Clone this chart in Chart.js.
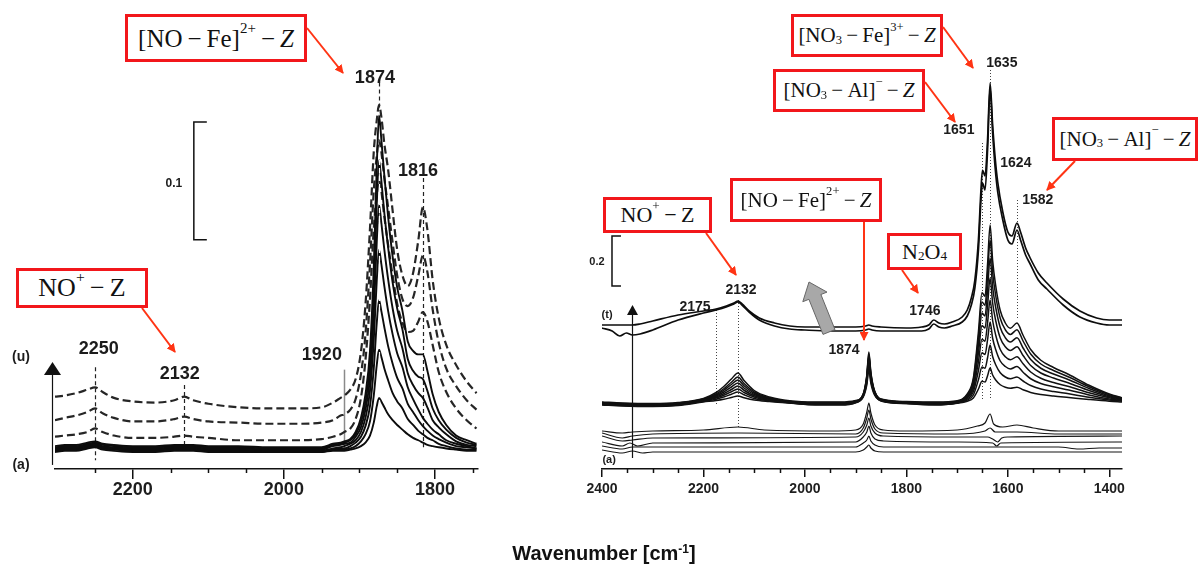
<!DOCTYPE html>
<html>
<head>
<meta charset="utf-8">
<title>IR spectra – NO adsorption</title>
<script src="https://cdn.jsdelivr.net/npm/chart.js@4.4.1/dist/chart.umd.min.js"></script>
<style>
    html, body { margin: 0; padding: 0; background: #fff; }
    #page { position: relative; width: 1200px; height: 564px; overflow: hidden; background: #fff; }
    canvas { position: absolute; top: 0; }
    #leftChart { left: 0; }
    #rightChart { left: 560px; }
    .tag {
        position: absolute; box-sizing: border-box; border: 3px solid #f2171b; background: #fff;
        display: flex; align-items: center; justify-content: center;
        font-family: 'Liberation Serif', 'Times New Roman', serif; color: #111;
        white-space: nowrap; line-height: 1;
    }
    .tag sup, .tag sub { font-size: 0.6em; position: relative; vertical-align: baseline; line-height: 0; }
    .tag sup { top: -0.7em; }
    .tag sub { top: 0.35em; }
    #arrows { position: absolute; left: 0; top: 0; pointer-events: none; }
    #xTitle {
        position: absolute; left: 0; width: 1208px; top: 542px; text-align: center;
        font: bold 20px 'Liberation Sans', Arial, sans-serif; color: #111;
    }
    #xTitle sup { font-size: 0.6em; position: relative; top: -0.6em; vertical-align: baseline; line-height: 0; }
</style>
</head>
<body>
<div id="page">
    <canvas id="leftChart" width="500" height="564"></canvas>
    <canvas id="rightChart" width="640" height="564"></canvas>

    <!-- red annotation boxes -->
    <div class="tag" style="left:125px;top:14px;width:182px;height:48px;font-size:25px;">[NO&#8201;&#8722;&#8201;Fe]<sup>2+</sup>&#8201;&#8722;&#8201;<i>Z</i></div>
    <div class="tag" style="left:16px;top:268px;width:132px;height:40px;font-size:26px;">NO<sup>+</sup>&#8201;&#8722;&#8201;Z</div>
    <div class="tag" style="left:791px;top:14px;width:152px;height:43px;font-size:21px;">[NO<sub>3</sub>&#8201;&#8722;&#8201;Fe]<sup>3+</sup>&#8201;&#8722;&#8201;<i>Z</i></div>
    <div class="tag" style="left:773px;top:69px;width:152px;height:43px;font-size:21px;">[NO<sub>3</sub>&#8201;&#8722;&#8201;Al]<sup>&#8722;</sup>&#8201;&#8722;&#8201;<i>Z</i></div>
    <div class="tag" style="left:1052px;top:117px;width:146px;height:44px;font-size:21px;">[NO<sub>3</sub>&#8201;&#8722;&#8201;Al]<sup>&#8722;</sup>&#8201;&#8722;&#8201;<i>Z</i></div>
    <div class="tag" style="left:603px;top:197px;width:109px;height:36px;font-size:22px;">NO<sup>+</sup>&#8201;&#8722;&#8201;Z</div>
    <div class="tag" style="left:730px;top:178px;width:152px;height:44px;font-size:21px;">[NO&#8201;&#8722;&#8201;Fe]<sup>2+</sup>&#8201;&#8722;&#8201;<i>Z</i></div>
    <div class="tag" style="left:887px;top:233px;width:75px;height:37px;font-size:22px;">N<sub>2</sub>O<sub>4</sub></div>

    <svg id="arrows" width="1200" height="564">
        <defs>
            <marker id="ah" markerWidth="9" markerHeight="9" refX="8" refY="4.5" orient="auto" markerUnits="userSpaceOnUse">
                <path d="M0,0 L9,4.5 L0,9 z" fill="#ff3414"/>
            </marker>
        </defs>
        <g stroke="#ff3414" stroke-width="2" marker-end="url(#ah)">
            <line x1="307" y1="28" x2="343" y2="73"/>
            <line x1="142" y1="308" x2="175" y2="352"/>
            <line x1="943" y1="27" x2="973" y2="68"/>
            <line x1="925" y1="82" x2="955" y2="122"/>
            <line x1="1075" y1="161" x2="1047" y2="190"/>
            <line x1="706" y1="233" x2="736" y2="275"/>
            <line x1="864" y1="222" x2="864" y2="340"/>
            <line x1="902" y1="270" x2="918" y2="293"/>
        </g>
        <!-- grey block arrow -->
        <polygon points="823,334.4 835,329.6 820.9,294.5 827,292.1 809,282 802.8,301.7 808.9,299.3"
                 fill="#a8a8a8" stroke="#666" stroke-width="1"/>
    </svg>

    <div id="xTitle">Wavenumber [cm<sup>-1</sup>]</div>
</div>

<script>
// ---------------- Left panel data (wavenumber, absorbance offset) ----------------
const leftWn = [2303, 2290, 2275, 2260, 2250, 2240, 2225, 2200, 2170, 2145, 2132, 2120, 2100, 2060, 2020,
    1980, 1950, 1935, 1925, 1920, 1912, 1905, 1898, 1892, 1886, 1881, 1877, 1874, 1871, 1867, 1862,
    1856, 1850, 1843, 1836, 1829, 1822, 1816, 1810, 1803, 1795, 1785, 1772, 1758, 1745];

// dashed spectra, series (u)
const leftU1 = [.047, .048, .050, .053, .055, .051, .046, .043, .042, .044, .047, .044, .041, .038, .037,
    .037, .038, .042, .046, .048, .053, .062, .085, .125, .190, .255, .282, .295, .285, .262, .240,
    .205, .172, .150, .141, .152, .180, .208, .189, .146, .114, .091, .074, .060, .050];
const leftU2 = [.027, .029, .031, .034, .037, .033, .029, .026, .026, .028, .030, .028, .026, .025, .024,
    .024, .025, .027, .031, .032, .036, .045, .066, .100, .160, .222, .252, .265, .255, .233, .208,
    .178, .150, .130, .124, .131, .150, .167, .153, .121, .093, .071, .056, .044, .036];
const leftU3 = [.013, .014, .015, .017, .020, .017, .014, .012, .012, .013, .014, .013, .012, .010, .010,
    .010, .011, .013, .015, .017, .020, .028, .046, .078, .130, .190, .219, .231, .222, .200, .176,
    .150, .126, .110, .102, .103, .111, .119, .111, .091, .068, .051, .037, .027, .020];

// solid spectra, series (a)
const leftS1 = [.005, .006, .006, .008, .009, .007, .006, .005, .005, .006, .006, .006, .005, .005, .004,
    .004, .004, .007, .008, .009, .011, .017, .029, .049, .086, .157, .243, .286, .266, .235, .200,
    .166, .140, .120, .094, .086, .083, .083, .069, .049, .034, .023, .014, .010, .007];
const leftS2 = [.004, .005, .005, .007, .008, .006, .005, .004, .004, .005, .005, .005, .004, .004, .003,
    .003, .003, .006, .007, .008, .010, .015, .025, .042, .074, .136, .211, .248, .231, .203, .174,
    .144, .122, .104, .079, .069, .064, .062, .052, .037, .027, .019, .012, .008, .006];
const leftS3 = [.003, .004, .004, .006, .007, .005, .004, .003, .003, .004, .004, .004, .003, .003, .002,
    .002, .002, .005, .006, .007, .008, .013, .021, .036, .063, .116, .179, .210, .195, .172, .147,
    .122, .103, .088, .067, .057, .050, .046, .038, .027, .021, .015, .009, .006, .005];
const leftS4 = [.002, .003, .003, .005, .006, .004, .003, .002, .002, .003, .003, .003, .002, .002, .001,
    .001, .001, .003, .004, .005, .007, .010, .017, .029, .052, .095, .146, .172, .160, .141, .120,
    .100, .084, .072, .055, .045, .036, .029, .024, .019, .015, .010, .007, .005, .003];
const leftS5 = [.001, .002, .002, .004, .005, .003, .002, .001, .001, .002, .002, .002, .001, .001, 0,
    0, 0, .002, .003, .003, .005, .008, .013, .022, .039, .071, .110, .129, .120, .106, .090,
    .075, .063, .054, .041, .034, .027, .022, .018, .014, .011, .008, .005, .004, .003];
const leftS6 = [.002, .003, .003, .004, .005, .004, .003, .002, .002, .002, .003, .002, .002, .001, .001,
    .001, .001, .002, .002, .002, .003, .005, .009, .015, .026, .048, .074, .087, .081, .071, .061,
    .050, .043, .037, .028, .023, .018, .015, .012, .010, .007, .005, .003, .002, .002];
const leftS7 = [0, .001, .001, .003, .004, .002, .001, 0, 0, .001, .001, .001, 0, 0, 0,
    0, 0, .001, .001, .001, .002, .003, .005, .008, .014, .025, .039, .046, .043, .038, .032,
    .027, .023, .019, .015, .012, .010, .008, .006, .005, .004, .003, .002, .001, .001];

// ---------------- Right panel data ----------------
// top spectra (t)
const topWn = [2400, 2380, 2365, 2352, 2340, 2325, 2300, 2250, 2200, 2175, 2155, 2140, 2132, 2124, 2110,
    2090, 2060, 2030, 2000, 1950, 1900, 1880, 1874, 1868, 1850, 1800, 1770, 1756, 1746, 1736,
    1725, 1710, 1690, 1680, 1672, 1665, 1658, 1653, 1650, 1645, 1640, 1635, 1630, 1625, 1620,
    1610, 1600, 1592, 1582, 1575, 1565, 1557, 1540, 1523, 1491, 1458, 1425, 1400, 1375];
const rightT1 = [.576, .576, .576, .576, .576, .580, .592, .616, .632, .640, .652, .664, .672, .660, .632,
    .604, .584, .572, .568, .568, .568, .572, .576, .572, .568, .564, .568, .576, .596, .584,
    .580, .588, .608, .636, .684, .756, .916, 1.116, 1.196, 1.172, 1.316, 1.544, 1.376, 1.244, 1.148,
    1.028, .948, .932, .984, .948, .884, .848, .784, .744, .680, .632, .604, .596, .596];
const rightT2 = [.564, .552, .532, .544, .536, .540, .556, .596, .624, .636, .648, .660, .668, .656, .628,
    .596, .572, .560, .556, .552, .552, .556, .560, .556, .552, .552, .552, .560, .580, .568,
    .564, .572, .588, .612, .656, .724, .876, 1.076, 1.144, 1.116, 1.276, 1.524, 1.344, 1.204, 1.108,
    .996, .916, .900, .956, .916, .856, .824, .756, .720, .656, .608, .584, .576, .576];

// middle spectra
const midWn = [2400, 2360, 2300, 2250, 2200, 2175, 2160, 2145, 2132, 2120, 2100, 2070, 2030, 1980, 1930,
    1900, 1885, 1878, 1874, 1870, 1862, 1845, 1800, 1740, 1700, 1680, 1668, 1658, 1651, 1645,
    1640, 1635, 1630, 1624, 1615, 1605, 1595, 1582, 1570, 1555, 1535, 1510, 1480, 1440, 1400, 1375];
const rightM1 = [.268, .264, .262, .266, .282, .306, .330, .360, .384, .354, .314, .288, .273, .268, .268,
    .274, .301, .376, .468, .386, .309, .278, .270, .268, .273, .300, .364, .549, .705, .691,
    .819, .976, .834, .734, .634, .584, .563, .584, .535, .478, .435, .406, .378, .335, .300, .285];
const rightM2 = [.266, .262, .260, .264, .280, .300, .321, .347, .368, .342, .308, .285, .270, .266, .266,
    .272, .299, .372, .460, .382, .307, .277, .268, .266, .270, .297, .355, .525, .668, .655,
    .773, .916, .786, .694, .603, .557, .538, .557, .512, .460, .420, .394, .368, .329, .297, .284];
const rightM3 = [.264, .260, .258, .262, .278, .296, .315, .338, .356, .333, .303, .282, .270, .264, .264,
    .272, .298, .367, .452, .377, .305, .275, .268, .264, .270, .293, .345, .496, .624, .612,
    .716, .844, .728, .647, .566, .525, .508, .525, .484, .438, .403, .380, .357, .322, .293, .281];
const rightM4 = [.262, .258, .256, .260, .276, .292, .308, .328, .344, .324, .298, .280, .268, .262, .262,
    .270, .296, .363, .444, .372, .304, .274, .266, .262, .268, .289, .334, .464, .574, .564,
    .654, .764, .664, .594, .524, .489, .474, .489, .454, .414, .384, .364, .344, .314, .289, .279];
const rightM5 = [.260, .256, .254, .258, .274, .288, .301, .318, .332, .315, .293, .278, .266, .260, .260,
    .268, .295, .359, .436, .367, .302, .272, .264, .260, .266, .285, .322, .429, .519, .511,
    .585, .676, .594, .536, .478, .449, .437, .449, .421, .388, .363, .346, .330, .305, .285, .276];
const rightM6 = [.259, .255, .253, .257, .272, .284, .295, .309, .320, .306, .288, .275, .265, .259, .259,
    .267, .293, .352, .424, .360, .299, .271, .263, .259, .265, .280, .309, .394, .465, .458,
    .517, .588, .523, .478, .432, .410, .400, .410, .387, .361, .342, .329, .316, .296, .280, .274];
const rightM7 = [.258, .254, .252, .256, .271, .279, .288, .299, .308, .297, .282, .273, .264, .258, .258,
    .266, .291, .345, .412, .353, .297, .270, .262, .258, .264, .276, .296, .357, .408, .403,
    .445, .496, .450, .417, .385, .368, .361, .368, .352, .334, .320, .310, .301, .287, .276, .271];
const rightM8 = [.256, .252, .250, .254, .268, .274, .279, .286, .292, .285, .276, .270, .264, .256, .256,
    .265, .288, .337, .396, .343, .293, .270, .262, .256, .263, .271, .284, .320, .351, .348,
    .373, .404, .376, .356, .337, .327, .323, .327, .317, .306, .298, .292, .286, .278, .271, .268];

// bottom spectra (a), [wavenumber, value] pairs
const rightA1 = [[2400, .152], [2360, .144], [2340, .148], [2300, .152], [2200, .156], [2132, .168], [2080, .156],
    [1950, .152], [1900, .156], [1885, .18], [1878, .228], [1874, .264], [1870, .224], [1862, .176], [1845, .156],
    [1800, .152], [1700, .156], [1660, .172], [1645, .184], [1635, .22], [1628, .18], [1610, .168], [1582, .176],
    [1550, .164], [1500, .152], [1450, .152], [1375, .152]];
const rightA2 = [[2400, .144], [2360, .124], [2340, .132], [2300, .14], [2132, .144], [1900, .14], [1885, .164],
    [1878, .204], [1874, .236], [1870, .2], [1862, .16], [1845, .144], [1700, .14], [1645, .152], [1635, .164],
    [1625, .148], [1582, .148], [1500, .14], [1375, .14]];
const rightA3 = [[2400, .132], [2360, .112], [2340, .116], [2300, .124], [1900, .128], [1885, .148], [1878, .176],
    [1874, .204], [1870, .172], [1862, .144], [1845, .132], [1700, .128], [1640, .128], [1630, .12], [1620, .108],
    [1612, .124], [1600, .128], [1375, .132]];
const rightA4 = [[2400, .108], [2360, .092], [2345, .104], [2330, .092], [2300, .104], [1900, .108], [1885, .128],
    [1878, .148], [1874, .172], [1870, .144], [1862, .12], [1845, .112], [1700, .108], [1630, .104], [1622, .092],
    [1614, .104], [1375, .108]];
const rightA5 = [[2400, .092], [2360, .08], [2340, .088], [2300, .088], [1900, .088], [1885, .104], [1878, .116],
    [1874, .132], [1870, .112], [1862, .096], [1845, .088], [1700, .088], [1500, .088], [1460, .08], [1420, .084],
    [1375, .084]];
const rightA6 = [[2400, .076], [2360, .064], [2340, .072], [2320, .064], [2300, .068], [1900, .068], [1885, .076],
    [1878, .088], [1874, .096], [1870, .084], [1862, .072], [1845, .068], [1375, .068]];

// axis ticks
const leftTicks = [2200, 2000, 1800];
const leftMinor = [2250, 2150, 2100, 2050, 1950, 1900, 1850, 1750];
const rightTicks = [2400, 2200, 2000, 1800, 1600, 1400];
const rightMinor = [2350, 2300, 2250, 2150, 2100, 2050, 1950, 1900, 1850, 1750, 1700, 1650, 1550, 1500, 1450];

Chart.defaults.font.family = "'Liberation Sans', Arial, sans-serif";

// Build a line dataset from a wavenumber list and a value list
function series(wn, vals, style) {
    return Object.assign({
        data: wn.map((w, i) => ({ x: w, y: vals[i] })),
        borderColor: '#111',
        borderWidth: 1.3,
        pointRadius: 0,
        fill: false,
        cubicInterpolationMode: 'monotone'
    }, style);
}

function pairSeries(pairs, style) {
    return series(pairs.map(p => p[0]), pairs.map(p => p[1]), style);
}

// Draws guide lines, peak labels, scale bar, arrow and minor ticks using the chart scales
function overlay(cfg) {
    const drawGuides = (chart, front) => {
        const { ctx } = chart;
        const X = v => chart.scales.x.getPixelForValue(v);
        const Y = v => chart.scales.y.getPixelForValue(v);
        ctx.save();
        cfg.guides.filter(g => !!g.front === front).forEach(g => {
            const px = Math.round(X(g.wn)) + 0.5;
            ctx.beginPath();
            ctx.setLineDash(g.dash);
            ctx.strokeStyle = g.color;
            ctx.lineWidth = g.width;
            ctx.moveTo(px, Y(g.from));
            ctx.lineTo(px, Y(g.to));
            ctx.stroke();
        });
        ctx.restore();
    };
    return {
        id: 'overlay',
        beforeDatasetsDraw(chart) { drawGuides(chart, false); },
        afterDatasetsDraw(chart) { drawGuides(chart, true); },
        afterDraw(chart) {
            const { ctx, chartArea } = chart;
            const X = v => chart.scales.x.getPixelForValue(v);
            const Y = v => chart.scales.y.getPixelForValue(v);
            ctx.save();
            ctx.setLineDash([]);

            // minor ticks
            ctx.strokeStyle = '#111';
            ctx.lineWidth = 1.5;
            cfg.minor.forEach(v => {
                const px = Math.round(X(v)) + 0.5;
                ctx.beginPath();
                ctx.moveTo(px, chartArea.bottom);
                ctx.lineTo(px, chartArea.bottom + cfg.minorLen);
                ctx.stroke();
            });

            // scale bar
            const b = cfg.bar;
            ctx.lineWidth = 1.5;
            ctx.beginPath();
            ctx.moveTo(X(b.serif), Y(b.top));
            ctx.lineTo(X(b.wn), Y(b.top));
            ctx.lineTo(X(b.wn), Y(b.bottom));
            ctx.lineTo(X(b.serif), Y(b.bottom));
            ctx.stroke();

            // upward arrow
            const a = cfg.arrow;
            const ax = Math.round(X(a.wn)) + 0.5;
            const tipY = Y(a.to);
            ctx.lineWidth = 1.2;
            ctx.beginPath();
            ctx.moveTo(ax, Y(a.from));
            ctx.lineTo(ax, tipY + a.headLen);
            ctx.stroke();
            ctx.fillStyle = '#111';
            ctx.beginPath();
            ctx.moveTo(ax, tipY);
            ctx.lineTo(ax - a.headW / 2, tipY + a.headLen);
            ctx.lineTo(ax + a.headW / 2, tipY + a.headLen);
            ctx.closePath();
            ctx.fill();

            // text labels
            ctx.fillStyle = '#1c1c1c';
            ctx.textAlign = 'center';
            ctx.textBaseline = 'middle';
            cfg.labels.forEach(l => {
                ctx.font = l.font;
                ctx.fillText(l.text, X(l.wn), Y(l.a));
            });
            ctx.restore();
        }
    };
}

function panelOptions(p) {
    return {
        responsive: false,
        animation: false,
        events: [],
        layout: { padding: p.padding },
        plugins: { legend: { display: false }, tooltip: { enabled: false } },
        scales: {
            x: {
                type: 'linear',
                reverse: true,
                min: p.xMin,
                max: p.xMax,
                afterBuildTicks: axis => { axis.ticks = p.ticks.map(v => ({ value: v })); },
                afterFit: axis => { axis.height = 40; },
                ticks: {
                    callback: v => String(v),
                    font: { size: p.tickSize, weight: 'bold' },
                    color: '#1e1e1e',
                    padding: p.tickPad,
                    maxRotation: 0,
                    autoSkip: false
                },
                grid: { drawOnChartArea: false, tickLength: p.tickLen, color: '#111', lineWidth: 1.5 },
                border: { display: true, color: '#111', width: 1.5 }
            },
            y: { display: false, min: p.yMin, max: p.yMax }
        }
    };
}

// Left chart
const solid = { borderWidth: 1.9, borderColor: '#0c0c0c' };
const dashed = { borderDash: [8, 4], borderWidth: 2.2, borderColor: '#262626' };
new Chart(document.getElementById('leftChart'), {
    type: 'line',
    data: {
        datasets: [
            series(leftWn, leftS1, solid), series(leftWn, leftS2, solid), series(leftWn, leftS3, solid),
            series(leftWn, leftS4, solid), series(leftWn, leftS5, solid), series(leftWn, leftS6, solid),
            series(leftWn, leftS7, solid),
            series(leftWn, leftU1, dashed), series(leftWn, leftU2, dashed), series(leftWn, leftU3, dashed)
        ]
    },
    options: panelOptions({
        padding: { left: 55, right: 22, top: 60, bottom: 55 },
        xMin: 1743, xMax: 2303, yMin: -0.01445, yMax: 0.3332,
        ticks: leftTicks, tickSize: 18, tickPad: 0, tickLen: 10
    }),
    plugins: [overlay({
        minor: leftMinor, minorLen: 4,
        guides: [
            { wn: 2250, from: .072, to: -.007, dash: [4, 3], color: '#222', width: 1.2 },
            { wn: 2132, from: .057, to: .004, dash: [4, 3], color: '#222', width: 1.2 },
            { wn: 1920, from: .070, to: .002, dash: [], color: '#8a8a8a', width: 1.5 },
            { wn: 1816, from: .233, to: .004, dash: [4, 3], color: '#222', width: 1.2 },
            { wn: 1874, from: .314, to: .290, dash: [4, 3], color: '#222', width: 1.2, front: true },
            { wn: 1874, from: .255, to: .000, dash: [5, 3], color: '#fff', width: 1.2, front: true }
        ],
        bar: { wn: 2119.2, serif: 2102, top: .2805, bottom: .1805 },
        arrow: { wn: 2307, from: -.011, to: .0765, headLen: 13, headW: 17 },
        labels: [
            { text: '1874', wn: 1879.5, a: .318, font: 'bold 18px Liberation Sans' },
            { text: '1816', wn: 1822.5, a: .239, font: 'bold 18px Liberation Sans' },
            { text: '1920', wn: 1949.7, a: .082, font: 'bold 18px Liberation Sans' },
            { text: '2250', wn: 2245, a: .0876, font: 'bold 18px Liberation Sans' },
            { text: '2132', wn: 2137.7, a: .066, font: 'bold 18px Liberation Sans' },
            { text: '(u)', wn: 2348, a: .081, font: 'bold 14px Liberation Sans' },
            { text: '(a)', wn: 2348, a: -.011, font: 'bold 14px Liberation Sans' },
            { text: '0.1', wn: 2145.7, a: .228, font: 'bold 12px Liberation Sans' }
        ]
    })]
});

// Right chart
const thick = { borderWidth: 1.7, borderColor: '#0d0d0d' };
const mid = { borderWidth: 1.5, borderColor: '#111' };
const low = { borderWidth: 1.2, borderColor: '#151515' };
new Chart(document.getElementById('rightChart'), {
    type: 'line',
    data: {
        datasets: [
            pairSeries(rightA1, low), pairSeries(rightA2, low), pairSeries(rightA3, low),
            pairSeries(rightA4, low), pairSeries(rightA5, low), pairSeries(rightA6, low),
            series(midWn, rightM8, mid), series(midWn, rightM7, mid), series(midWn, rightM6, mid),
            series(midWn, rightM5, mid), series(midWn, rightM4, mid), series(midWn, rightM3, mid),
            series(midWn, rightM2, mid), series(midWn, rightM1, mid),
            series(topWn, rightT2, thick), series(topWn, rightT1, thick)
        ]
    },
    options: panelOptions({
        padding: { left: 42, right: 78, top: 20, bottom: 55 },
        xMin: 1375, xMax: 2400, yMin: 0, yMax: 1.796,
        ticks: rightTicks, tickSize: 14, tickPad: 4, tickLen: 8
    }),
    plugins: [overlay({
        minor: rightMinor, minorLen: 4,
        guides: [
            { wn: 2175, from: .636, to: .256, dash: [1, 2], color: '#444', width: 1 },
            { wn: 2132, from: .676, to: .168, dash: [1, 2], color: '#444', width: 1 },
            { wn: 1651, from: 1.304, to: .276, dash: [1, 2], color: '#444', width: 1 },
            { wn: 1635, from: 1.596, to: .276, dash: [1, 2], color: '#444', width: 1 },
            { wn: 1582, from: 1.076, to: .596, dash: [1, 2], color: '#444', width: 1 }
        ],
        bar: { wn: 2380.3, serif: 2362.6, top: .932, bottom: .732 },
        arrow: { wn: 2341, from: .044, to: .656, headLen: 10, headW: 11 },
        labels: [
            { text: '2132', wn: 2126, a: .716, font: 'bold 14px Liberation Sans' },
            { text: '2175', wn: 2216.7, a: .648, font: 'bold 14px Liberation Sans' },
            { text: '1874', wn: 1923, a: .476, font: 'bold 14px Liberation Sans' },
            { text: '1746', wn: 1763.5, a: .632, font: 'bold 14px Liberation Sans' },
            { text: '1635', wn: 1611.8, a: 1.624, font: 'bold 14px Liberation Sans' },
            { text: '1651', wn: 1696.6, a: 1.356, font: 'bold 14px Liberation Sans' },
            { text: '1624', wn: 1584.2, a: 1.224, font: 'bold 14px Liberation Sans' },
            { text: '1582', wn: 1540.9, a: 1.076, font: 'bold 14px Liberation Sans' },
            { text: '(t)', wn: 2390, a: .616, font: 'bold 11px Liberation Sans' },
            { text: '(a)', wn: 2386, a: .036, font: 'bold 11px Liberation Sans' },
            { text: '0.2', wn: 2410, a: .828, font: 'bold 11px Liberation Sans' }
        ]
    })]
});
</script>
</body>
</html>
